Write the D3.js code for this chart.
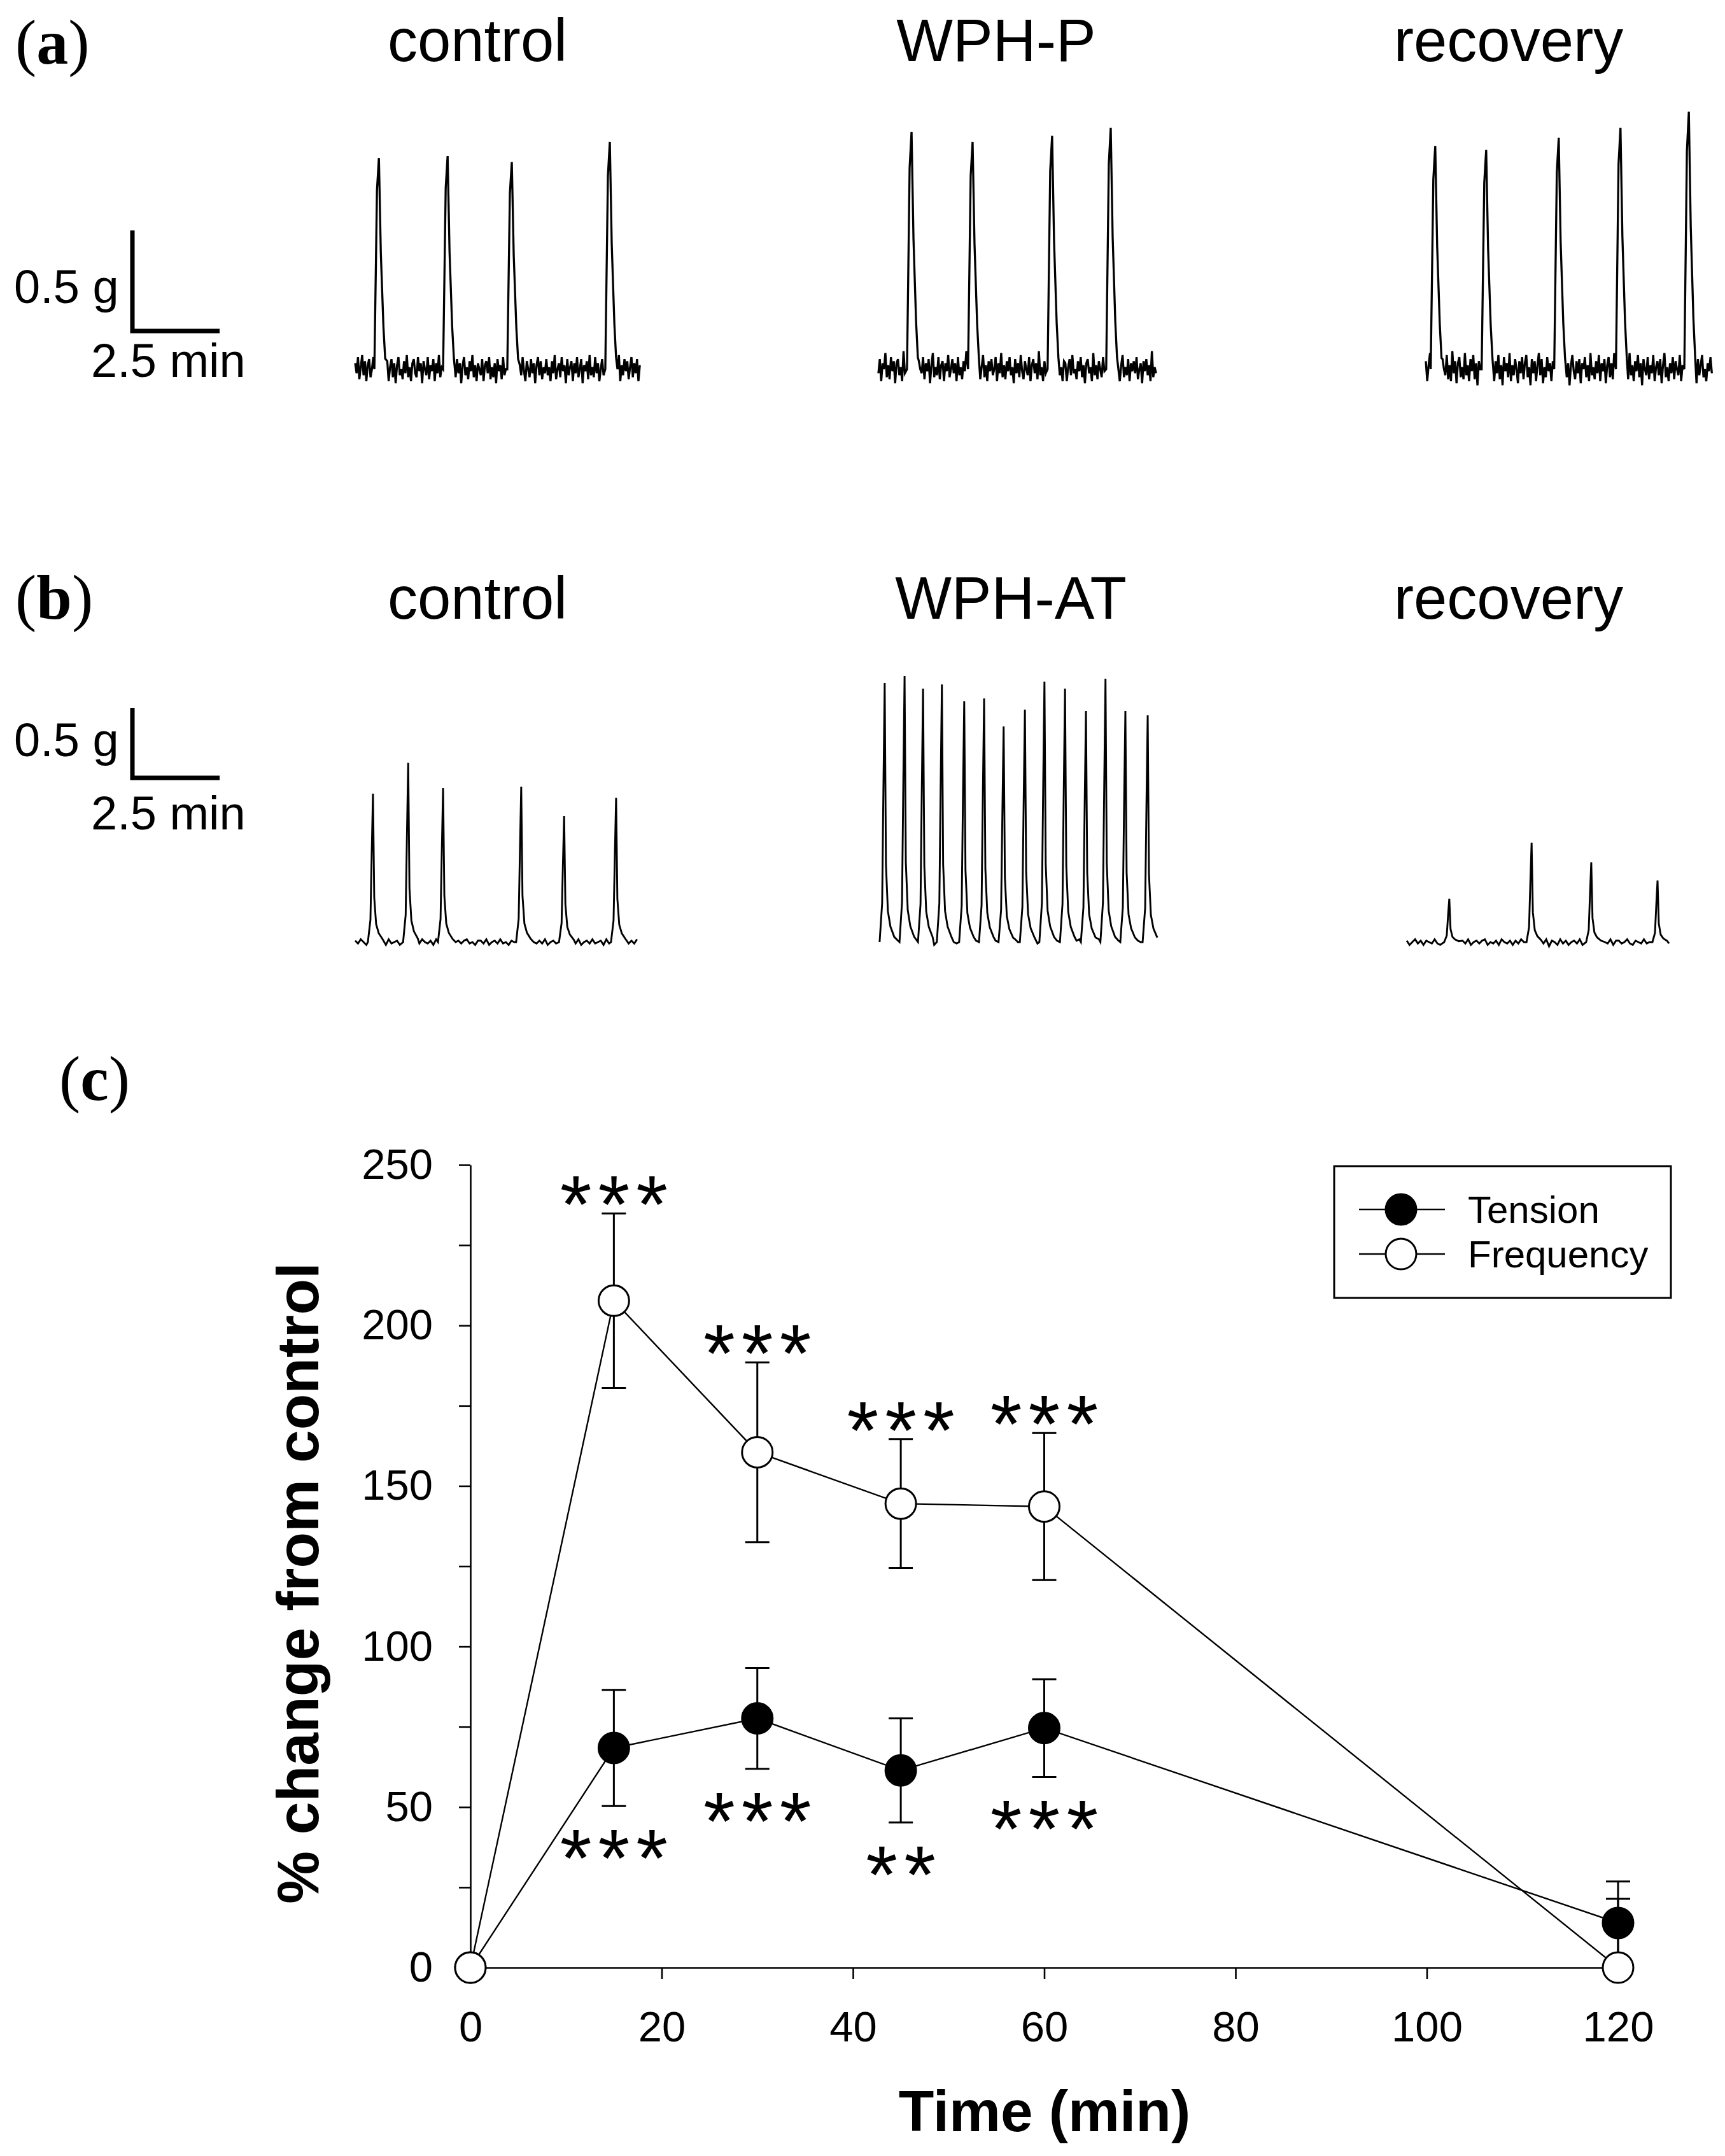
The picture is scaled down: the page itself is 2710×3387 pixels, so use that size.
<!DOCTYPE html>
<html lang="en">
  <head>
    <meta charset="utf-8">
    <title>WPH contraction traces</title>
    <script src="https://d3js.org/d3.v7.min.js"></script>
    <style>
      body { margin: 0; background: #fff; }
      text { font-family: "Liberation Sans", Arial, sans-serif; fill: #000; }
    </style>
  </head>
  <body>
    <script type="text/javascript">
    var w = 2710;
    var h = 3387;

    // ---- (a) / (b) traces: peaks as [min from trace start, amplitude in g]
    var peaksA_control  = [[0.68, 1.05], [2.65, 1.06], [4.49, 1.03], [7.30, 1.13]];
    var peaksA_wph      = [[0.95, 1.18], [2.70, 1.13], [4.98, 1.16], [6.66, 1.20]];
    var peaksA_recovery = [[0.27, 1.11], [1.73, 1.09], [3.81, 1.15], [5.58, 1.20], [7.54, 1.28]];
    var peaksB_control  = [[0.51, 1.06], [1.52, 1.28], [2.52, 1.10], [4.76, 1.11], [5.99, 0.90], [7.48, 1.03]];
    var peaksB_wph      = [[0.18, 1.85], [0.75, 1.90], [1.28, 1.81], [1.82, 1.84], [2.46, 1.72], [3.03, 1.74], [3.59, 1.54],
                           [4.20, 1.66], [4.76, 1.86], [5.35, 1.81], [5.95, 1.65], [6.51, 1.88], [7.08, 1.65], [7.72, 1.62]];
    var peaksB_recovery = [[1.22, 0.31], [3.58, 0.71], [5.29, 0.57], [7.19, 0.44]];

    // shape of one contraction: [min from peak, fraction of amplitude]
    var spikeA = [[-0.13, 0], [-0.055, 0.85], [0, 1], [0.055, 0.55], [0.13, 0.2], [0.18, 0.05]];
    var spikeB = [[-0.146, 0], [-0.073, 0.15], [-0.036, 0.6], [0, 1], [0.036, 0.3], [0.091, 0.12], [0.164, 0.06], [0.274, 0.02]];

    // baseline noise, in 0.01 g
    var noiseA_control = [3,-2,6,-5,1,7,-3,4,-6,2,5,-4,0,6,-7,3,-1,5,-5,2,-3,7,-2,4,-6,1,5,-4,3,-7,
      2,6,-3,0,-5,4,-2,7,-4,1,-6,3,5,-2,-4,6,-1,3,-7,4,0,-3,6,-5,2,-1,5,-6,3,-2,
      7,-4,1,4,-5,2,-3,6,-1,-6,4,0,-4,5,-2,3,-7,2,6,-3,1,-5,4,-1,7,-4,2,-6,3,0,
      -3,5,-6,2,4,-2,6,-5,1,-4,3,-7,5,-1,2,-5,6,-3,0,4,-6,3,-2,7,-4,1,5,-5,2,-3,
      6,-1,-6,4,0,-4,5,-2,3,-7,2,6,-3,4,-5,1,-2,5,-3,1,-6,4,-2,7,-5,0,3,
      -4,6,-1,2,-7,5,-3,1,4,-6,3,-2,6,-4,0,5,-7,2,-1,4,-5,7,-3,1,-4,6,-2,3,-6,0,
      5,-3,2,-7,4,1,-5,6,-2,3,-4,0,7,-6,2,-3,5,-1,4,-5,1,6,-4,3,-2,5,-6,2];
    var noiseA_wph = [-2,5,-6,3,0,8,-4,2,-5,6,-1,4,-7,3,5,-3,1,-6,9,-2,3,-5,6,-1,-4,7,-3,2,-6,4,
      0,-2,6,-5,3,-1,5,-7,2,8,-4,1,-3,6,-5,2,4,-6,3,-1,7,-4,0,5,-2,3,-6,6,-3,1,
      -5,4,-1,9,-4,2,-7,5,0,-3,6,-2,3,-5,1,7,-4,2,-6,4,-1,5,-3,0,6,-6,3,-2,8,-4,
      2,-5,4,-1,6,-3,1,-7,5,-2,3,-4,7,-1,-5,4,0,-3,6,-6,2,5,-2,3,-5,9,-3,1,-6,4,
      -2,6,-4,2,-7,5,-1,3,-5,7,-3,1,-6,4,3,-6,1,5,-3,7,-2,0,-5,4,
      -1,6,-4,2,-7,3,5,-2,1,-6,8,-3,2,-5,4,0,-4,6,-1,3,-7,5,-2,1,-5,6,-3,4,0,-6,
      2,7,-4,1,-3,5,-6,3,-1,4,-2,6,-5,0,3,-7,4,-1,5,-3,2,-6,9,-4,1,-2];
    var noiseA_recovery = [4,-6,2,8,-3,5,-7,1,6,-4,3,-8,5,0,-3,7,-5,2,-6,9,-2,4,-7,3,6,-4,1,-5,8,-3,
      2,-6,5,-1,7,-5,3,-8,4,0,-4,6,-2,5,-7,3,9,-3,1,-6,4,-2,7,-5,2,-8,6,-1,3,-4,
      8,-6,2,-3,5,0,-7,4,-2,6,-5,3,7,-4,1,-8,5,-2,4,-6,2,8,-3,5,-7,1,-4,6,-1,3,
      -6,4,-2,9,-5,2,-7,5,0,-3,6,-4,3,-8,2,7,-1,-5,4,-2,5,-7,3,0,6,-4,2,-6,8,-3,
      1,-5,4,-2,7,-6,3,-1,5,-7,2,6,-4,3,-5,8,-2,1,-4,6,-2,3,-7,5,1,-5,8,-3,
      2,-6,4,-1,7,-4,3,-8,5,0,-3,6,-5,2,-2,7,-6,1,4,-3,5,-7,2,8,-4,1,-6,3,-2,6,
      -5,4,0,-3,7,-6,2,-1,5,-8,3,6,-2,4,-5,1,-7,5,-3,2,7,-4,0,-6,3,-1,6,-2];
    var noiseB_control = [1,-1,2,0,-2,1,-1,2,-2,0,1,-2,2,-1,0,1,-2,1,2,-1,0,-2,1,-1,2,0,-1,1,-2,2,
      -1,0,1,-1,2,-2,0,1,-1,1,2,-1,0,-2,1,1,-1,2,-2,0,1,-1,2,-1,0,-2,1,0,2,-1,
      -1,1,-2,2,0,-1,1,-1,2,-2,0,1,-1,2,-1,0,-2,1,1,-1,2,-2,0,1,-1,2,-1,0,1,-2,
      2,-1,0,1,-1,-2,2,0,-1,1,-1,2];
    var noiseB_wph = [0,-1,1,-2,2,-1,0,1,-2,1,-1,2,0,-2,1,-1,2,-1,0,1,-2,1,0,-1,2,-2,1,0,-1,1,
      2,-1,-2,1,0,1,-1,2,-1,0,-2,1,1,-1,2,0,-2,1,-1,2,0,-1,1,-2,1,0,2,-1,-1,1,
      -2,2,0,-1,1,-1,2,-2,0,1,-1,1,2,-2,0,-1,1,0,-2,2,-1,1,0,-1,2,-2,1,-1,0,1,
      2,-1,-2,1,0,-1,1,2,-1,0];
    var noiseB_recovery = [1,-2,0,2,-1,1,-2,1,0,-1,2,-1,-2,1,0,2,-2,1,-1,0,1,-1,2,-2,0,1,-1,1,2,-2,
      0,-1,1,-2,2,0,-1,1,-2,1,-1,2,0,-1,-3,2,-2,1,0,-1,2,-3,1,0,-2,2,-1,1,-2,0,
      1,-1,2,-2,1,0,-1,2,-1,-2,1,0,-1,2,-2,1,1,-1,0,2,-1,-2,1,0,-1,2,-1,0,1,-2,
      1,-1,2,0,-1];

    var columnTitlesA = ["control", "WPH-P", "recovery"];
    var columnTitlesB = ["control", "WPH-AT", "recovery"];

    // ---- (c) % change from control
    var times = [0, 15, 30, 45, 60, 120];
    var tension = [0, 68.4, 77.6, 61.4, 74.6, 13.9];
    var tensionSem = [0, 18.1, 15.7, 16.2, 15.2, 12.9];
    var frequency = [0, 207.7, 160.5, 144.5, 143.6, 0];
    var frequencySem = [0, 27.2, 28.0, 20.1, 22.9, 21.4];
    var frequencyStars = ["", "***", "***", "***", "***", ""];
    var tensionStars = ["", "***", "***", "**", "***", ""];
    var xTicks = [0, 20, 40, 60, 80, 100, 120];
    var yTicks = [0, 25, 50, 75, 100, 125, 150, 175, 200, 225, 250];
    var yLabels = [0, 50, 100, 150, 200, 250];

    var svg = d3.select("body")
                .append("svg")
                .attr("width", w)
                .attr("height", h);

    svg.append("rect").attr("width", w).attr("height", h).attr("fill", "#fff");

    // build a trace from baseline noise and contraction peaks
    function buildTrace(noise, dt, peaks, shape) {
      var first = shape[0][0], last = shape[shape.length - 1][0];
      var pts = [];
      noise.forEach(function(v, i) {
        var t = i * dt;
        var inside = peaks.some(function(p) { return t >= p[0] + first - dt * 0.5 && t <= p[0] + last + dt * 0.5; });
        if (!inside) pts.push([t, v / 100]);
      });
      peaks.forEach(function(p) {
        shape.forEach(function(s) { pts.push([p[0] + s[0], p[1] * s[1]]); });
      });
      pts.sort(function(a, b) { return a[0] - b[0]; });
      return pts;
    }

    var pxPerMin = 137 / 2.5;

    var rows = [
      { label: "a", labelY: 100, titleY: 96, titles: columnTitlesA, titleX: [750, 1565, 2370],
        base: 580, gPx: 158, barBottom: 520, gTextY: 476, minTextY: 592, stroke: 3.3,
        traces: [
          { noise: noiseA_control, dt: 0.04, peaks: peaksA_control, shape: spikeA, x0: 558 },
          { noise: noiseA_wph, dt: 0.04, peaks: peaksA_wph, shape: spikeA, x0: 1380 },
          { noise: noiseA_recovery, dt: 0.04, peaks: peaksA_recovery, shape: spikeA, x0: 2240 }
        ] },
      { label: "b", labelY: 972, titleY: 972, titles: columnTitlesB, titleX: [750, 1588, 2370],
        base: 1480, gPx: 110, barBottom: 1222, gTextY: 1188, minTextY: 1303, stroke: 2.9,
        traces: [
          { noise: noiseB_control, dt: 0.08, peaks: peaksB_control, shape: spikeB, x0: 558 },
          { noise: noiseB_wph, dt: 0.08, peaks: peaksB_wph, shape: spikeB, x0: 1380 },
          { noise: noiseB_recovery, dt: 0.08, peaks: peaksB_recovery, shape: spikeB, x0: 2210 }
        ] }
    ];

    function panelLabel(letter, x, y) {
      var t = svg.append("text")
                 .attr("x", x).attr("y", y)
                 .style("font-family", "'Liberation Serif', 'Times New Roman', serif")
                 .attr("font-size", 100);
      t.append("tspan").text("(");
      t.append("tspan").attr("font-weight", "bold").text(letter);
      t.append("tspan").text(")");
    }

    rows.forEach(function(row) {
      panelLabel(row.label, 24, row.labelY);

      svg.selectAll(null)
         .data(row.titles)
         .enter()
         .append("text")
         .attr("x", function(d, i) { return row.titleX[i]; })
         .attr("y", row.titleY)
         .attr("text-anchor", "middle")
         .attr("font-size", 94)
         .text(function(d) { return d; });

      // scale bar
      var barG = d3.scaleLinear().domain([0, 0.5]).range([row.barBottom, row.barBottom - row.gPx]);
      var barT = d3.scaleLinear().domain([0, 2.5]).range([208, 208 + 2.5 * pxPerMin]);
      svg.append("path")
         .attr("d", "M" + barT(0) + "," + barG(0.5) + "V" + barG(0) + "H" + barT(2.5))
         .attr("fill", "none")
         .attr("stroke", "#000")
         .attr("stroke-width", 7);
      svg.append("text").attr("x", 22).attr("y", row.gTextY).attr("font-size", 74).text("0.5 g");
      svg.append("text").attr("x", 143).attr("y", row.minTextY).attr("font-size", 74).text("2.5 min");

      row.traces.forEach(function(tr) {
        var pts = buildTrace(tr.noise, tr.dt, tr.peaks, tr.shape);
        var x = d3.scaleLinear().domain([0, 2.5]).range([tr.x0, tr.x0 + 2.5 * pxPerMin]);
        var y = d3.scaleLinear().domain([0, 0.5]).range([row.base, row.base - row.gPx]);
        var line = d3.line()
                     .x(function(d) { return x(d[0]); })
                     .y(function(d) { return y(d[1]); });
        svg.append("path")
           .datum(pts)
           .attr("d", line)
           .attr("fill", "none")
           .attr("stroke", "#000")
           .attr("stroke-width", row.stroke)
           .attr("stroke-linejoin", "miter");
      });
    });

    // ---- panel (c)
    panelLabel("c", 93, 1728);

    var xScale = d3.scaleLinear().domain([0, 120]).range([739, 2542]);
    var yScale = d3.scaleLinear().domain([0, 250]).range([3091, 1830]);

    var xAxis = d3.axisBottom(xScale)
                  .tickValues(xTicks)
                  .tickSize(18)
                  .tickSizeOuter(0)
                  .tickPadding(50);
    var yAxis = d3.axisLeft(yScale)
                  .tickValues(yTicks)
                  .tickSize(18)
                  .tickSizeOuter(0)
                  .tickPadding(41)
                  .tickFormat(function(d) { return yLabels.indexOf(d) >= 0 ? d : ""; });

    var gx = svg.append("g")
       .attr("transform", "translate(0," + yScale(0) + ")")
       .call(xAxis);
    var gy = svg.append("g")
       .attr("transform", "translate(" + xScale(0) + ",0)")
       .call(yAxis);
    [gx, gy].forEach(function(g) {
      g.selectAll("path, line").attr("stroke", "#000").attr("stroke-width", 2.6);
      g.selectAll("text").attr("font-size", 67).style("font-family", "'Liberation Sans', Arial, sans-serif").attr("fill", "#000");
    });

    svg.append("text")
       .attr("transform", "translate(500," + 2487 + ") rotate(-90)")
       .attr("text-anchor", "middle")
       .attr("font-size", 93)
       .attr("font-weight", "bold")
       .text("% change from control");
    svg.append("text")
       .attr("x", 1641)
       .attr("y", 3348)
       .attr("text-anchor", "middle")
       .attr("font-size", 91)
       .attr("font-weight", "bold")
       .text("Time (min)");

    var clip = svg.append("clipPath").attr("id", "plotclip");
    clip.append("rect").attr("x", 600).attr("y", 1700).attr("width", 2100).attr("height", yScale(0) - 1700);

    var series = [
      { name: "Tension", values: tension, sem: tensionSem, stars: tensionStars, fill: "#000", above: false },
      { name: "Frequency", values: frequency, sem: frequencySem, stars: frequencyStars, fill: "#fff", above: true }
    ];

    var line = d3.line()
                 .x(function(d) { return xScale(d.t); })
                 .y(function(d) { return yScale(d.v); });

    series.forEach(function(s) {
      s.points = times.map(function(t, i) { return { t: t, v: s.values[i], e: s.sem[i], star: s.stars[i] }; });
      svg.append("path")
         .datum(s.points)
         .attr("d", line)
         .attr("fill", "none")
         .attr("stroke", "#000")
         .attr("stroke-width", 2.4);
    });

    var bars = svg.append("g").attr("clip-path", "url(#plotclip)");
    series.forEach(function(s) {
      var pts = s.points.filter(function(d) { return d.e > 0; });
      bars.selectAll(null)
          .data(pts)
          .enter()
          .append("path")
          .attr("d", function(d) {
            var x = xScale(d.t), y1 = yScale(d.v + d.e), y0 = yScale(d.v - d.e);
            return "M" + x + "," + y0 + "V" + y1 +
                   "M" + (x - 19) + "," + y1 + "H" + (x + 19) +
                   "M" + (x - 19) + "," + y0 + "H" + (x + 19);
          })
          .attr("fill", "none")
          .attr("stroke", "#000")
          .attr("stroke-width", 3);
    });

    series.forEach(function(s) {
      svg.selectAll(null)
         .data(s.points)
         .enter()
         .append("circle")
         .attr("cx", function(d) { return xScale(d.t); })
         .attr("cy", function(d) { return yScale(d.v); })
         .attr("r", 24)
         .attr("fill", s.fill)
         .attr("stroke", "#000")
         .attr("stroke-width", 3);
    });

    // significance marks
    series.forEach(function(s) {
      svg.selectAll(null)
         .data(s.points.filter(function(d) { return d.star; }))
         .enter()
         .append("text")
         .attr("x", function(d) { return xScale(d.t) + 5; })
         .attr("y", function(d) {
           var c = s.above ? yScale(d.v + d.e) - 44 : yScale(d.v - d.e) + 52;
           return c + 74;
         })
         .attr("text-anchor", "middle")
         .attr("font-size", 128)
         .attr("letter-spacing", 10)
         .text(function(d) { return d.star; });
    });

    // legend
    var legend = svg.append("g");
    legend.append("rect")
          .attr("x", 2096).attr("y", 1832)
          .attr("width", 529).attr("height", 207)
          .attr("fill", "#fff")
          .attr("stroke", "#000")
          .attr("stroke-width", 3);
    series.forEach(function(s, i) {
      var cy = 1900 + i * 70;
      legend.append("line")
            .attr("x1", 2135).attr("x2", 2270)
            .attr("y1", cy).attr("y2", cy)
            .attr("stroke", "#000").attr("stroke-width", 2.4);
      legend.append("circle")
            .attr("cx", 2201).attr("cy", cy).attr("r", 24)
            .attr("fill", s.fill).attr("stroke", "#000").attr("stroke-width", 3);
      legend.append("text")
            .attr("x", 2306).attr("y", cy + 21)
            .attr("font-size", 60)
            .text(s.name);
    });
    </script>
  </body>
</html>
